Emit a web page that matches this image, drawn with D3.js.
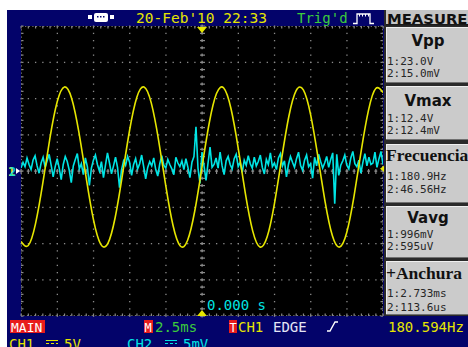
<!DOCTYPE html>
<html><head><meta charset="utf-8">
<script src="https://cdn.jsdelivr.net/npm/d3@7"></script>
<style>
html,body{margin:0;padding:0;background:#fff;overflow:hidden;}
svg{display:block;}
</style></head><body>
<svg id="scope" width="468" height="347"></svg>
<script>
// Time base: 2.5 ms/div, 10 divisions, trigger at centre
const timeWindow = [-12.5, 12.5];      // ms
const ch1Range = [-20, 20];            // V   (5 V/div, 8 div)
const ch2Range = [-20, 20];            // mV  (5 mV/div, 8 div)
const ch1Interval = 0.5;               // ms between CH1 samples

// CH1 samples (V)
const ch1Samples = [-9.71,-10.28,-7.30,-1.75,4.56,9.55,11.59,10.01,5.32,-0.91,
  -6.68,-10.08,-9.99,-6.45,-0.60,5.62,10.17,11.58,9.36,4.27,
  -2.05,-7.52,-10.34,-9.59,-5.52,0.55,6.62,10.68,11.44,8.62,
  3.17,-3.16,-8.26,-10.48,-9.08,-4.52,1.70,7.55,11.09,11.18,
  7.78,2.01,-4.22,-8.91,-10.49,-8.45,-3.46,2.85,8.40,11.38,
  10.81];

// CH2 samples (mV), evenly spaced across the window
const ch2Samples = [0.4,1.2,0.6,1.8,0.9,0.2,1.5,2.1,0.7,-0.3,
  1.1,1.9,0.5,1.4,2.3,0.8,-0.8,0.6,1.7,0.4,
  -1.2,0.9,2.0,1.3,0.1,-1.6,0.7,1.6,2.4,0.3,
  1.0,-0.5,1.8,0.6,-2.0,0.4,1.5,2.2,0.9,0.0,
  1.3,-0.9,0.8,2.5,1.1,-0.4,0.7,1.9,0.5,-2.3,
  0.2,1.4,0.8,2.0,1.2,-0.6,0.9,1.7,0.3,1.0,
  2.2,0.6,-1.1,0.5,1.3,0.7,1.8,0.2,-0.7,1.0,
  2.1,0.8,0.4,1.6,0.9,0.3,-0.5,1.9,1.1,0.6,
  1.4,0.2,1.7,0.5,-0.9,1.2,2.0,6.1,0.4,-1.7,
  2.6,0.7,-1.3,1.1,3.3,0.5,0.9,1.8,0.4,2.6,
  0.7,-0.5,1.4,2.0,0.9,0.3,1.7,2.3,0.6,1.2,
  -0.2,1.5,0.8,2.1,1.0,0.4,1.9,0.7,1.3,2.2,
  0.5,-0.4,1.6,0.9,2.5,0.6,1.1,0.2,1.8,2.4,
  0.7,1.4,-0.8,0.9,2.0,1.2,0.5,1.7,2.6,0.8,
  0.1,1.5,2.2,0.6,1.0,-1.0,1.9,0.7,2.3,1.3,
  0.4,1.1,2.0,0.5,1.6,2.5,-4.5,2.3,-0.6,0.8,
  1.4,2.2,0.8,0.3,1.8,2.7,1.0,0.6,1.5,-0.3,
  1.2,2.4,0.7,1.9,0.9,1.1,2.6,0.5,1.7,2.7,
  0.9];

const triggerLevel = 0.3; // V on CH1

// Measurement panel
const measureTitles = ["Vpp", "Vmax", "Frecuencia", "Vavg", "+Anchura"];
const measureCh1 = ["1:23.0V", "1:12.4V", "1:180.9Hz", "1:996mV", "1:2.733ms"];
const measureCh2 = ["2:15.0mV", "2:12.4mV", "2:46.56Hz", "2:595uV", "2:113.6us"];

// Status texts
const dateText = "20-Feb'10 22:33";
const trigState = "Trig'd";
const timebaseText = "2.5ms";
const trigSource = "CH1";
const trigType = "EDGE";
const freqText = "180.594Hz";
const delayText = "0.000 s";
const ch1Scale = "5V";
const ch2Scale = "5mV";

// ---------------------------------------------------------------
const svg = d3.select("#scope");
const W = 468, H = 347;
const plot = {left: 21, right: 383, top: 26, bottom: 316};
const NAVY = "#03036a";
const YEL = "#e6e600", CYAN = "#00e4e4", GREEN = "#3ccc3c", RED = "#e81c1c";
const MONO = "'DejaVu Sans Mono', monospace";

const x = d3.scaleLinear().domain(timeWindow).range([plot.left, plot.right]);
const y1 = d3.scaleLinear().domain(ch1Range).range([plot.bottom, plot.top]);
const y2 = d3.scaleLinear().domain(ch2Range).range([plot.bottom, plot.top]);

// frame
svg.append("rect").attr("x", 0).attr("y", 0).attr("width", W).attr("height", H).attr("fill", "#fff");
svg.append("rect").attr("x", 7).attr("y", 10).attr("width", W - 7).attr("height", H - 10).attr("fill", NAVY);
svg.append("rect").attr("x", plot.left).attr("y", plot.top)
  .attr("width", plot.right - plot.left).attr("height", plot.bottom - plot.top).attr("fill", "#000");

// graticule
const grid = svg.append("g").attr("fill", "#8a8a8a");
const divT = d3.range(timeWindow[0], timeWindow[1] + 0.01, 2.5);
const subT = d3.range(timeWindow[0], timeWindow[1] + 0.01, 0.5);
const divV = d3.range(ch1Range[0], ch1Range[1] + 0.01, 5);
const subV = d3.range(ch1Range[0], ch1Range[1] + 0.01, 1);

divT.slice(1, -1).forEach(t => {
  subV.forEach(v => {
    grid.append("rect").attr("x", x(t) - 0.5).attr("y", y1(v) - 0.5).attr("width", 1.3).attr("height", 1.3);
  });
});
divV.slice(1, -1).forEach(v => {
  subT.forEach(t => {
    grid.append("rect").attr("x", x(t) - 0.5).attr("y", y1(v) - 0.5).attr("width", 1.3).attr("height", 1.3);
  });
});
// centre crosses
subV.forEach(v => {
  grid.append("rect").attr("x", x(0) - 2).attr("y", y1(v) - 0.5).attr("width", 5).attr("height", 1.2);
  grid.append("rect").attr("x", x(0) - 0.5).attr("y", y1(v) - 1.5).attr("width", 1.2).attr("height", 3);
});
subT.forEach(t => {
  grid.append("rect").attr("x", x(t) - 0.5).attr("y", y1(0) - 2).attr("width", 1.2).attr("height", 5);
  grid.append("rect").attr("x", x(t) - 1.5).attr("y", y1(0) - 0.5).attr("width", 3).attr("height", 1.2);
});
// border
svg.append("rect").attr("x", plot.left + 0.5).attr("y", plot.top + 0.5)
  .attr("width", plot.right - plot.left - 1).attr("height", plot.bottom - plot.top - 1)
  .attr("fill", "none").attr("stroke", "#777").attr("stroke-width", 1).attr("stroke-dasharray", "1.2,2.4");
subT.forEach(t => {
  grid.append("rect").attr("x", x(t) - 0.5).attr("y", plot.top).attr("width", 1.2).attr("height", 2.5);
  grid.append("rect").attr("x", x(t) - 0.5).attr("y", plot.bottom - 2.5).attr("width", 1.2).attr("height", 2.5);
});
subV.forEach(v => {
  grid.append("rect").attr("x", plot.left).attr("y", y1(v) - 0.5).attr("width", 2.5).attr("height", 1.2);
  grid.append("rect").attr("x", plot.right - 2.5).attr("y", y1(v) - 0.5).attr("width", 2.5).attr("height", 1.2);
});

// traces
svg.append("clipPath").attr("id", "screen").append("rect")
  .attr("x", plot.left).attr("y", plot.top).attr("width", plot.right - plot.left).attr("height", plot.bottom - plot.top);
const traces = svg.append("g").attr("clip-path", "url(#screen)");

const ch2Step = (timeWindow[1] - timeWindow[0]) / (ch2Samples.length - 1);
const line2 = d3.line().x((d, i) => x(timeWindow[0] + i * ch2Step)).y(d => y2(d));
traces.append("path").datum(ch2Samples).attr("d", line2)
  .attr("fill", "none").attr("stroke", CYAN).attr("stroke-width", 1.6).attr("stroke-linejoin", "miter");

const line1 = d3.line().x((d, i) => x(timeWindow[0] + i * ch1Interval)).y(d => y1(d)).curve(d3.curveNatural);
traces.append("path").datum(ch1Samples).attr("d", line1)
  .attr("fill", "none").attr("stroke", YEL).attr("stroke-width", 1.6);

// trigger position markers
const tx = x(0);
svg.append("path").attr("d", `M${tx - 5},${plot.top + 1}h10l-5,6z`).attr("fill", YEL);
svg.append("path").attr("d", `M${tx - 5},${plot.bottom}h10l-5,-6z`).attr("fill", YEL);
// trigger level marker (right edge)
const ty = y1(triggerLevel);
svg.append("path").attr("d", `M${plot.right + 2},${ty - 4}v8l-5,-4z`).attr("fill", YEL);
// channel ground markers (left edge)
svg.append("text").attr("x", 8).attr("y", y1(0) + 5).attr("font-family", MONO).attr("font-size", 12)
  .attr("font-weight", "bold").attr("fill", YEL).text("1");
svg.append("text").attr("x", 9).attr("y", y2(0) + 5).attr("font-family", MONO).attr("font-size", 12)
  .attr("font-weight", "bold").attr("fill", CYAN).attr("opacity", 0.85).text("2");
svg.append("path").attr("d", `M16,${y2(0) - 3}v6l4,-3z`).attr("fill", "#fff");

// delay readout
svg.append("text").attr("x", tx + 5).attr("y", 310).attr("font-family", MONO).attr("font-size", 14)
  .attr("fill", CYAN).text(delayText);

// top bar
const usb = svg.append("g").attr("fill", "#fff");
usb.append("rect").attr("x", 88).attr("y", 15).attr("width", 4).attr("height", 4);
usb.append("rect").attr("x", 94).attr("y", 13).attr("width", 14).attr("height", 9).attr("rx", 2);
usb.append("rect").attr("x", 110).attr("y", 15).attr("width", 4).attr("height", 4);
[97, 100, 103].forEach(d => usb.append("rect").attr("x", d).attr("y", 16).attr("width", 1.5).attr("height", 1.5).attr("fill", NAVY));
svg.append("text").attr("x", 136).attr("y", 23).attr("font-family", MONO).attr("font-size", 14.5)
  .attr("fill", YEL).text(dateText);
svg.append("text").attr("x", 297).attr("y", 23).attr("font-family", MONO).attr("font-size", 14)
  .attr("fill", GREEN).text(trigState);
svg.append("path").attr("d", "M353,23.5h4v-9.5h13v9.5h4").attr("fill", "none").attr("stroke", "#fff").attr("stroke-width", 1.3);
[359, 362, 365, 368].forEach(d => svg.append("rect").attr("x", d).attr("y", 14).attr("width", 1).attr("height", 2.5).attr("fill", "#fff"));

// measurement panel
const panel = svg.append("g");
panel.append("rect").attr("x", 384).attr("y", 10).attr("width", W - 384).attr("height", 306).attr("fill", "#2a2a2a");
panel.append("rect").attr("x", 386).attr("y", 10).attr("width", W - 386).attr("height", 15).attr("fill", "#c4c4c4");
panel.append("rect").attr("x", 386).attr("y", 24).attr("width", W - 386).attr("height", 1.3).attr("fill", "#1a1a1a");
panel.append("text").attr("x", 387).attr("y", 23.5).attr("font-family", "'DejaVu Sans', sans-serif")
  .attr("font-weight", "bold").attr("font-size", 14.8).attr("fill", "#111").text("MEASURE");

const boxTop = [27, 86, 144, 206, 261];
const boxBottom = [83, 140, 203, 258, 315];
const titleBase = [46, 106, 161, 223, 279];
const line1Base = [65, 122, 180, 238, 297];
const line2Base = [77, 134, 193, 250, 311];
measureTitles.forEach((t, i) => {
  const g = panel.append("g");
  const h = boxBottom[i] - boxTop[i];
  g.append("rect").attr("x", 386).attr("y", boxTop[i]).attr("width", W - 386).attr("height", h).attr("fill", "#cbcbcb");
  g.append("rect").attr("x", 386).attr("y", boxTop[i]).attr("width", W - 386).attr("height", 1).attr("fill", "#f0f0f0");
  g.append("rect").attr("x", 386).attr("y", boxTop[i]).attr("width", 1).attr("height", h).attr("fill", "#f0f0f0");
  g.append("rect").attr("x", 386).attr("y", boxBottom[i] - 1).attr("width", W - 386).attr("height", 1).attr("fill", "#707070");
  const serif = (t === "Frecuencia" || t === "+Anchura");
  g.append("text")
    .attr("x", serif ? 386 : 428).attr("y", titleBase[i])
    .attr("text-anchor", serif ? "start" : "middle")
    .attr("font-family", serif ? "'Liberation Serif', serif" : "'DejaVu Sans', sans-serif")
    .attr("font-weight", "bold").attr("font-size", serif ? 17.5 : 15).attr("fill", "#111")
    .text(t);
  g.append("text").attr("x", 387).attr("y", line1Base[i]).attr("font-family", MONO).attr("font-size", 11)
    .attr("fill", "#262626").text(measureCh1[i]);
  g.append("text").attr("x", 387).attr("y", line2Base[i]).attr("font-family", MONO).attr("font-size", 11)
    .attr("fill", "#262626").text(measureCh2[i]);
});

// bottom status bar
const bar = svg.append("g").attr("font-family", MONO).attr("font-size", 14);
bar.append("rect").attr("x", 10).attr("y", 320).attr("width", 35).attr("height", 13).attr("fill", RED);
bar.append("text").attr("x", 11).attr("y", 332).attr("fill", "#fff").attr("font-size", 13).text("MAIN");
bar.append("rect").attr("x", 144).attr("y", 320).attr("width", 9).attr("height", 13).attr("fill", RED);
bar.append("text").attr("x", 144.5).attr("y", 332).attr("fill", "#fff").attr("font-size", 12).text("M");
bar.append("text").attr("x", 155).attr("y", 332).attr("fill", GREEN).text(timebaseText);
bar.append("rect").attr("x", 229).attr("y", 320).attr("width", 8).attr("height", 13).attr("fill", RED);
bar.append("text").attr("x", 229.5).attr("y", 332).attr("fill", "#fff").attr("font-size", 12).text("T");
bar.append("text").attr("x", 238).attr("y", 332).attr("fill", YEL).text(trigSource);
bar.append("text").attr("x", 273).attr("y", 332).attr("fill", "#e4e4f4").text(trigType);
bar.append("path").attr("d", "M327,331h3l5,-9h3").attr("fill", "none").attr("stroke", "#fff").attr("stroke-width", 1.4);
bar.append("text").attr("x", 388).attr("y", 332).attr("fill", YEL).text(freqText);

// channel scale row (runs past the lower edge of the display)
bar.append("text").attr("x", 9).attr("y", 349).attr("fill", YEL).text("CH1");
bar.append("path").attr("d", "M46,340.5h12M46,343.5h3M51,343.5h3M56,343.5h2").attr("stroke", YEL).attr("stroke-width", 1.2);
bar.append("text").attr("x", 64).attr("y", 349).attr("fill", YEL).text(ch1Scale);
bar.append("text").attr("x", 127).attr("y", 349).attr("fill", CYAN).text("CH2");
bar.append("path").attr("d", "M165,340.5h12M165,343.5h3M170,343.5h3M175,343.5h2").attr("stroke", CYAN).attr("stroke-width", 1.2);
bar.append("text").attr("x", 183).attr("y", 349).attr("fill", CYAN).text(ch2Scale);
</script>
</body></html>
